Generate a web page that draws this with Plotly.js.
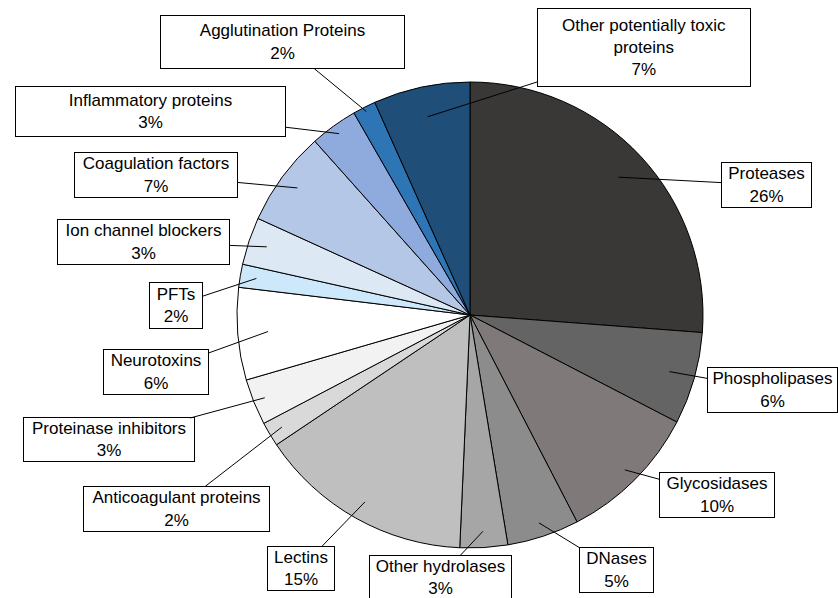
<!DOCTYPE html>
<html>
<head>
<meta charset="utf-8">
<script src="https://cdn.plot.ly/plotly-3.0.1.min.js"></script>
<style>html,body{margin:0;padding:0;background:#fff;}#chart{width:838px;height:598px;}</style>
</head>
<body>
<div id="chart"></div>
<script>
// Data (clockwise from 12 o'clock)
const categories = ["Proteases","Phospholipases","Glycosidases","DNases","Other hydrolases","Lectins","Anticoagulant proteins","Proteinase inhibitors","Neurotoxins","PFTs","Ion channel blockers","Coagulation factors","Inflammatory proteins","Agglutination Proteins","Other potentially toxic proteins"];
const values = [26.2, 6.4, 9.8, 5.0, 3.3, 14.9, 1.7, 3.2, 6.4, 1.6, 3.3, 6.6, 3.3, 1.6, 6.7];
const labelText = ["Proteases","Phospholipases","Glycosidases","DNases","Other hydrolases","Lectins","Anticoagulant proteins","Proteinase inhibitors","Neurotoxins","PFTs","Ion channel blockers","Coagulation factors","Inflammatory proteins","Agglutination Proteins","Other potentially toxic<br>proteins"];
const colors = ["#3a3836","#646464","#7f7a79","#8c8c8c","#a6a6a6","#bfbfbf","#d9d9d9","#f2f2f2","#ffffff","#cce8fa","#dde8f5","#b4c7e7","#8faadc","#2e75b6","#1f4e79"];

// Layout: box centres (px), box sizes (px), leader tip radius fraction
const W = 838, H = 598;
const boxCenter = [[766,185],[772,390],[717,495],[616,570],[440,577],[301,568],[176,509],[109,440],[156,372],[176,305],[143,242],[156,175],[150,111],[282,42],[644,48]];
const boxSize = [[91,46],[131,46],[116,46],[75,46],[143,45],[68,45],[187,46],[172,45],[106,46],[54,47],[173,46],[164,46],[271,51],[245,54],[214,79]];
const tipR = [0.87,0.89,0.94,0.94,0.93,0.92,0.94,0.95,0.87,0.93,0.92,0.92,0.96,0.98,0.87];
const dom = {x:[237/W, 703/W], y:[50/H, 516/H]};

const total = values.reduce((a,b)=>a+b,0);
const cx = (dom.x[0]+dom.x[1])/2*W;
const cy = (1-(dom.y[0]+dom.y[1])/2)*H;
const R = Math.min((dom.x[1]-dom.x[0])*W, (dom.y[1]-dom.y[0])*H)/2;

const annotations = [];
let cum = 0;
values.forEach((v,i)=>{
  const mid = (cum + v/2)/total*2*Math.PI;
  cum += v;
  const tx = cx + tipR[i]*R*Math.sin(mid);
  const ty = cy - tipR[i]*R*Math.cos(mid);
  const pct = Math.round(v/total*100) + '%';
  annotations.push({
    xref:'paper', yref:'paper',
    x: tx/W, y: 1 - ty/H,
    ax: boxCenter[i][0]-tx, ay: boxCenter[i][1]-ty,
    axref:'pixel', ayref:'pixel',
    text: labelText[i] + '<br>' + pct,
    showarrow:true, arrowhead:0, arrowwidth:1, arrowcolor:'#000', standoff:0,
    bgcolor:'#ffffff', bordercolor:'#000', borderwidth:1, borderpad:0,
    width: boxSize[i][0]-2, height: boxSize[i][1]-2,
    align:'center', valign:'middle',
    font:{family:'Liberation Sans, Arial, sans-serif', size:17, color:'#000'}
  });
});

const trace = {
  type:'pie', labels:categories, values:values, sort:false, direction:'clockwise', rotation:0,
  marker:{colors:colors, line:{color:'#000', width:1}},
  textinfo:'none', hoverinfo:'none', showlegend:false, domain:dom
};
const layout = {
  width:W, height:H, margin:{l:0,r:0,t:0,b:0},
  paper_bgcolor:'#fff', plot_bgcolor:'#fff', showlegend:false,
  annotations:annotations
};
Plotly.newPlot('chart',[trace],layout,{displayModeBar:false,staticPlot:true});
</script>
</body>
</html>
